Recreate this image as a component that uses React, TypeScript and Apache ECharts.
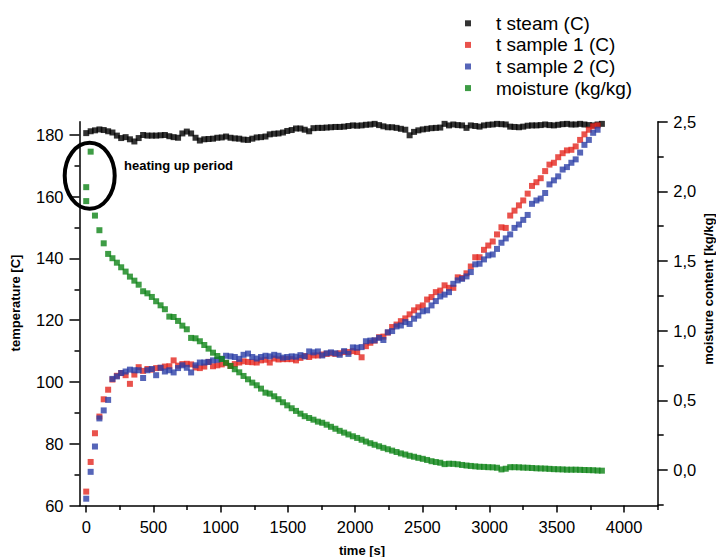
import React, { useEffect, useRef } from 'react';
import * as echarts from 'echarts';

// time axis of the measurements [s]
const time = [0, 33, 65, 98, 130, 163, 195, 228, 260, 293, 325, 358, 390, 423, 455, 488, 520, 553, 585, 618,
  650, 683, 715, 748, 780, 813, 845, 878, 910, 943, 975, 1008, 1040, 1073, 1105, 1138, 1170, 1203, 1235, 1268,
  1300, 1333, 1365, 1398, 1430, 1463, 1495, 1528, 1560, 1593, 1625, 1658, 1690, 1723, 1755, 1788, 1820, 1853, 1885, 1918,
  1950, 1983, 2015, 2048, 2080, 2113, 2145, 2178, 2210, 2243, 2275, 2308, 2340, 2373, 2405, 2438, 2470, 2503, 2535, 2568,
  2600, 2633, 2665, 2698, 2730, 2763, 2795, 2828, 2860, 2893, 2925, 2958, 2990, 3023, 3055, 3088, 3120, 3153, 3185, 3218,
  3250, 3283, 3315, 3348, 3380, 3413, 3445, 3478, 3510, 3543, 3575, 3608, 3640, 3673, 3705, 3738, 3770, 3803, 3835];

const tSteam = [180.6, 181.2, 181.5, 181.8, 181.6, 181.2, 180.8, 179.8, 179.0, 179.3,
  178.6, 177.9, 179.0, 180.0, 179.8, 179.8, 179.8, 179.9, 180.0, 179.6,
  179.3, 179.1, 180.5, 181.1, 180.5, 179.1, 178.2, 178.6, 178.7, 178.8,
  179.1, 179.2, 179.5, 179.1, 178.9, 178.8, 178.5, 178.4, 178.8, 179.2,
  179.3, 179.5, 180.2, 180.4, 180.5, 180.8, 181.3, 181.6, 182.1, 182.1,
  181.7, 181.2, 182.2, 182.3, 182.3, 182.4, 182.5, 182.6, 182.6, 182.7,
  182.9, 183.1, 183.0, 183.1, 183.3, 183.4, 183.6, 183.2, 182.8, 182.5,
  182.5, 182.3, 182.0, 181.7, 179.9, 181.0, 181.5, 181.8, 182.0, 182.2,
  182.3, 182.4, 183.6, 183.1, 183.4, 183.2, 183.1, 182.3, 183.1, 182.9,
  182.7, 183.1, 183.3, 183.4, 183.6, 183.5, 183.4, 182.7, 182.6, 182.5,
  182.7, 183.0, 183.1, 183.1, 183.2, 183.4, 183.2, 183.1, 183.3, 183.5,
  183.6, 183.4, 183.4, 183.6, 183.4, 183.2, 183.1, 183.4, 183.6];

const tSample1 = [64.5, 74.1, 83.4, 88.8, 94.4, 97.5, 100.8, 102.0, 102.9, 102.2,
  99.4, 102.4, 104.8, 103.6, 104.2, 104.0, 104.5, 104.6, 105.0, 105.1,
  107.0, 105.3, 105.8, 105.9, 105.7, 104.7, 104.5, 105.0, 106.5, 105.1,
  105.4, 105.7, 106.1, 105.2, 105.8, 106.3, 106.7, 106.5, 106.4, 106.3,
  107.0, 107.2, 106.3, 107.6, 107.3, 107.4, 107.4, 107.4, 107.0, 107.8,
  108.4, 108.1, 108.6, 108.6, 108.9, 109.1, 109.3, 109.1, 109.3, 109.7,
  109.7, 110.0, 109.7, 108.0, 111.6, 112.7, 113.4, 114.5, 114.7, 116.0,
  117.8, 118.6, 119.7, 120.6, 121.9, 123.2, 124.2, 124.8, 126.7, 127.5,
  129.1, 129.6, 131.3, 130.5, 130.5, 133.9, 133.7, 135.2, 137.4, 140.4,
  140.4, 142.8, 144.2, 145.5, 147.8, 150.1, 149.9, 153.9, 155.5, 157.2,
  158.8, 161.0, 163.5, 164.7, 166.0, 168.3, 170.4, 171.0, 172.8, 174.1,
  175.0, 175.2, 176.3, 178.4, 180.2, 181.7, 182.8, 183.1];

const tSample2 = [62.2, 70.9, 79.1, 88.2, 90.8, 94.2, 101.0, 101.8, 102.9, 103.4,
  104.0, 103.8, 103.8, 101.3, 103.8, 104.2, 102.2, 104.6, 103.4, 103.8,
  103.1, 104.5, 105.4, 104.6, 103.1, 105.4, 106.3, 106.3, 106.5, 107.0,
  107.2, 107.5, 108.5, 108.3, 108.1, 107.5, 108.8, 109.2, 108.1, 107.6,
  108.1, 108.5, 108.3, 108.8, 108.5, 107.9, 108.1, 108.3, 108.2, 108.7,
  108.3, 109.9, 109.6, 109.9, 108.6, 109.3, 109.6, 109.3, 108.8, 110.0,
  109.1, 111.2, 111.1, 111.3, 113.2, 113.4, 113.5, 114.3, 113.6, 116.1,
  116.5, 118.0, 118.3, 119.4, 118.8, 120.5, 121.5, 122.9, 123.2, 124.8,
  126.2, 127.7, 128.3, 129.1, 131.8, 132.9, 133.4, 134.2, 135.6, 138.1,
  138.3, 139.7, 141.0, 141.3, 143.1, 145.1, 146.5, 147.8, 149.9, 151.0,
  152.5, 154.1, 157.7, 158.8, 159.4, 161.2, 164.0, 165.3, 166.6, 168.8,
  169.6, 171.0, 172.1, 174.3, 176.8, 178.4, 180.7, 181.7];

const moisture = [1.93, 2.285, 1.826, 1.721, 1.627, 1.551, 1.520, 1.488, 1.455, 1.424,
  1.388, 1.359, 1.330, 1.283, 1.268, 1.242, 1.211, 1.182, 1.154, 1.101,
  1.098, 1.070, 1.036, 1.010, 0.948, 0.945, 0.924, 0.897, 0.871, 0.842,
  0.818, 0.797, 0.770, 0.747, 0.723, 0.701, 0.675, 0.651, 0.627, 0.608,
  0.584, 0.555, 0.548, 0.529, 0.508, 0.486, 0.464, 0.443, 0.424, 0.404,
  0.386, 0.373, 0.361, 0.347, 0.339, 0.325, 0.310, 0.296, 0.281, 0.268,
  0.255, 0.242, 0.230, 0.217, 0.204, 0.192, 0.181, 0.170, 0.159, 0.149,
  0.139, 0.129, 0.119, 0.111, 0.102, 0.095, 0.087, 0.080, 0.072, 0.063,
  0.057, 0.052, 0.042, 0.045, 0.044, 0.041, 0.036, 0.032, 0.029, 0.026,
  0.023, 0.022, 0.020, 0.019, 0.016, 0.004, 0.009, 0.020, 0.020, 0.019,
  0.017, 0.016, 0.014, 0.012, 0.011, 0.010, 0.008, 0.006, 0.005, 0.004,
  0.002, 0.002, 0.002, 0.001, 0.000, -0.001, -0.002, -0.004, -0.005];

// second reading taken at the very start of the heating up period
const moistureExtraTime = [0];
const moistureExtra = [2.03];

const seriesNames = ['t steam (C)', 't sample 1 (C)', 't sample 2 (C)', 'moisture (kg/kg)'];
const seriesColors = ['#000000', '#e3271f', '#2c3fa6', '#0e8316'];

const xMajorTicks = [0, 500, 1000, 1500, 2000, 2500, 3000, 3500, 4000];
const xMinorTicks = [250, 750, 1250, 1750, 2250, 2750, 3250, 3750, 4250];
const tempMajorTicks = [60, 80, 100, 120, 140, 160, 180];
const tempMinorTicks = [70, 90, 110, 130, 150, 170];
const moistMajorTicks = [0, 0.5, 1.0, 1.5, 2.0, 2.5];
const moistMinorTicks = [-0.25, 0.25, 0.75, 1.25, 1.75, 2.25];

const FONT = '"Liberation Sans", Arial, sans-serif';

export default function App() {
  const ref = useRef<HTMLDivElement>(null);
  useEffect(() => {
    const chart = echarts.init(ref.current!, null, { renderer: 'svg' });
    const pair = (ts: number[], vs: number[]) => vs.map((v, i) => [ts[i], v]);
    const lineStyle = { color: '#000', width: 1.5 };
    const labelStyle = { fontSize: 16.5, color: '#000', fontFamily: FONT };

    const xBase = { type: 'value', position: 'bottom', min: -50, max: 4250, splitLine: { show: false } };
    const tBase = { type: 'value', position: 'left', min: 60, max: 184.3, splitLine: { show: false } };
    const mBase = { type: 'value', position: 'right', min: -0.255, max: 2.5, splitLine: { show: false } };

    const option: any = {
      animation: false,
      backgroundColor: '#ffffff',
      grid: { left: 79.5, right: 58.3, top: 121.7, bottom: 51.5, containLabel: false },
      legend: {
        orient: 'vertical', left: 460, top: 7.5, itemGap: 0, itemWidth: 46, itemHeight: 6,
        icon: 'path://M0,0L1,0L1,1L0,1Z',
        textStyle: { fontSize: 19, lineHeight: 21.6, fontFamily: FONT, color: '#000' },
        data: seriesNames,
      },
      xAxis: [
        { ...xBase, axisLine: { show: true, onZero: false, lineStyle },
          axisTick: { show: true, length: 7, customValues: xMajorTicks, lineStyle },
          axisLabel: { ...labelStyle, margin: 13, customValues: xMajorTicks,
            formatter: (v: number) => String(v) } },
        { ...xBase, axisLine: { show: false, onZero: false },
          axisTick: { show: true, length: 4.5, customValues: xMinorTicks, lineStyle },
          axisLabel: { show: false } },
      ],
      yAxis: [
        { ...tBase, axisLine: { show: true, onZero: false, lineStyle },
          axisTick: { show: true, length: 10, customValues: tempMajorTicks, lineStyle },
          axisLabel: { ...labelStyle, margin: 16, customValues: tempMajorTicks,
            formatter: (v: number) => String(v) } },
        { ...tBase, axisLine: { show: false, onZero: false },
          axisTick: { show: true, length: 5, customValues: tempMinorTicks, lineStyle },
          axisLabel: { show: false } },
        { ...mBase, axisLine: { show: true, onZero: false, lineStyle },
          axisTick: { show: true, length: 10, customValues: moistMajorTicks, lineStyle },
          axisLabel: { ...labelStyle, margin: 15.5, customValues: moistMajorTicks,
            formatter: (v: number) => v.toFixed(1).replace('.', ',') } },
        { ...mBase, axisLine: { show: false, onZero: false },
          axisTick: { show: true, length: 6, customValues: moistMinorTicks, lineStyle },
          axisLabel: { show: false } },
      ],
      series: [
        { name: seriesNames[0], type: 'scatter', symbol: 'rect', symbolSize: 6, yAxisIndex: 0,
          itemStyle: { color: seriesColors[0] }, data: pair(time, tSteam) },
        { name: seriesNames[1], type: 'scatter', symbol: 'rect', symbolSize: 6, yAxisIndex: 0,
          itemStyle: { color: seriesColors[1] }, data: pair(time, tSample1) },
        { name: seriesNames[2], type: 'scatter', symbol: 'rect', symbolSize: 6, yAxisIndex: 0,
          itemStyle: { color: seriesColors[2] }, data: pair(time, tSample2) },
        { name: seriesNames[3], type: 'scatter', symbol: 'rect', symbolSize: 6, yAxisIndex: 2,
          itemStyle: { color: seriesColors[3] },
          data: [...pair(moistureExtraTime, moistureExtra), ...pair(time, moisture)] },
      ],
      graphic: [
        { type: 'ellipse', shape: { cx: 89.7, cy: 175.8, rx: 25, ry: 33 },
          style: { fill: 'none', stroke: '#000', lineWidth: 4 }, z: 100 },
        { type: 'text', x: 124, y: 165.5, z: 100,
          style: { text: 'heating up period', fontSize: 13, fontWeight: 'bold', fontFamily: FONT,
            fill: '#000', align: 'left', verticalAlign: 'middle' } },
        { type: 'text', x: 15, y: 303, rotation: Math.PI / 2, z: 100,
          style: { text: 'temperature [C]', fontSize: 13, fontWeight: 'bold', fontFamily: FONT,
            fill: '#000', align: 'center', verticalAlign: 'middle' } },
        { type: 'text', x: 708, y: 289, rotation: Math.PI / 2, z: 100,
          style: { text: 'moisture content [kg/kg]', fontSize: 13, fontWeight: 'bold', fontFamily: FONT,
            fill: '#000', align: 'center', verticalAlign: 'middle' } },
        { type: 'text', x: 362, y: 550, z: 100,
          style: { text: 'time [s]', fontSize: 13, fontWeight: 'bold', fontFamily: FONT,
            fill: '#000', align: 'center', verticalAlign: 'middle' } },
      ],
    };
    chart.setOption(option);
    return () => chart.dispose();
  }, []);
  return <div ref={ref} style={{ position: 'fixed', left: 0, top: 0, width: 716, height: 557, background: '#fff' }} />;
}
